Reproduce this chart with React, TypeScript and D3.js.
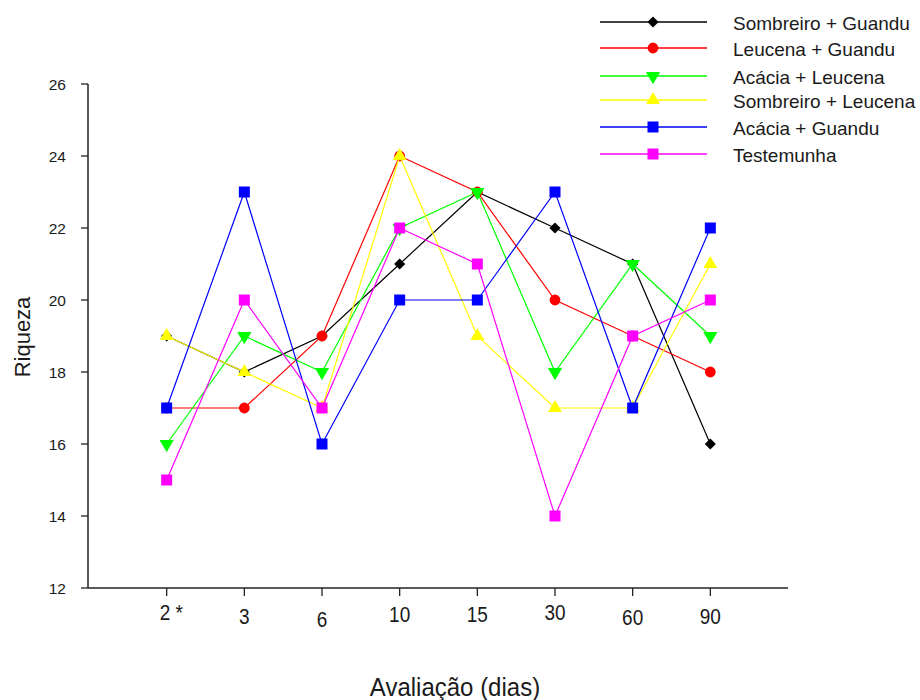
import React from "react";
import * as d3 from "d3";

const categories = ["2 *", "3", "6", "10", "15", "30", "60", "90"];
const seriesNames = [
  "Sombreiro + Guandu",
  "Leucena + Guandu",
  "Acácia + Leucena",
  "Sombreiro + Leucena",
  "Acácia + Guandu",
  "Testemunha",
];
const sombreiroGuandu = [19, 18, 19, 21, 23, 22, 21, 16];
const leucenaGuandu = [17, 17, 19, 24, 23, 20, 19, 18];
const acaciaLeucena = [16, 19, 18, 22, 23, 18, 21, 19];
const sombreiroLeucena = [19, 18, 17, 24, 19, 17, 17, 21];
const acaciaGuandu = [17, 23, 16, 20, 20, 23, 17, 22];
const testemunha = [15, 20, 17, 22, 21, 14, 19, 20];
const yTicks = [12, 14, 16, 18, 20, 22, 24, 26];

const seriesValues = [sombreiroGuandu, leucenaGuandu, acaciaLeucena, sombreiroLeucena, acaciaGuandu, testemunha];
const colors = ["#000000", "#ff0000", "#00ff00", "#ffff00", "#0000ff", "#ff00ff"];
const symbols = ["diamond", d3.symbolCircle, "triDown", d3.symbolTriangle, d3.symbolSquare, d3.symbolSquare];
const symSizes = [62, 92, 88, 82, 121, 121];
// small per-label baseline shifts seen in the reference rendering
const labelShift = [0, 4, 7, 2, 2, 0, 5, 4];

function markerPath(i: number) {
  const s = symbols[i];
  if (s === "triDown") return d3.symbol().type(d3.symbolTriangle).size(symSizes[i])();
  if (s === "diamond") return d3.symbol().type(d3.symbolSquare).size(symSizes[i])();
  return d3.symbol().type(s as any).size(symSizes[i])();
}
function markerRot(i: number) {
  const s = symbols[i];
  if (s === "triDown") return " rotate(180)";
  if (s === "diamond") return " rotate(45)";
  return "";
}

export default function App() {
  const x = d3.scaleLinear().domain([-1, 8]).range([89, 788]);
  const y = d3.scaleLinear().domain([12, 26]).range([588, 84]);
  const line = d3
    .line<number>()
    .x((_, i) => x(i))
    .y((d) => y(d));
  const font = "'Liberation Sans', Arial, sans-serif";
  const legendY = [22, 48, 76, 100, 127, 154];
  const txt = "#1a1a1a";

  return (
    <svg width={920} height={700} style={{ position: "absolute", left: 0, top: 0, background: "#fff" }} fontFamily={font}>
      <rect width={920} height={700} fill="#fff" />
      {/* axes */}
      <line x1={88} x2={88} y1={y(26)} y2={y(12)} stroke="#222" strokeWidth={1.5} />
      <line x1={88} x2={x(8)} y1={y(12)} y2={y(12)} stroke="#222" strokeWidth={1.5} />
      {yTicks.map((t) => (
        <g key={t}>
          <line x1={81} x2={88} y1={y(t)} y2={y(t)} stroke="#222" strokeWidth={1.3} />
          <text x={66} y={y(t)} dy="0.36em" textAnchor="end" fontSize={15.5} fill={txt}>
            {t}
          </text>
        </g>
      ))}
      {categories.map((c, i) => (
        <g key={c}>
          <line x1={x(i)} x2={x(i)} y1={y(12)} y2={y(12) + 8} stroke="#222" strokeWidth={1.3} />
          <text
            transform={`translate(${i === 0 ? x(i) - 7 : x(i)},${620 + labelShift[i]}) scale(1,1.2)`}
            textAnchor={i === 0 ? "start" : "middle"}
            fontSize={19}
            fill={txt}
          >
            {c}
          </text>
        </g>
      ))}
      <text transform="translate(455,696) scale(1,1.1)" textAnchor="middle" fontSize={24} fill={txt}>
        Avaliação (dias)
      </text>
      <text transform={`translate(30,337) rotate(-90)`} textAnchor="middle" fontSize={22} fill={txt}>
        Riqueza
      </text>
      {/* series */}
      {seriesValues.map((vals, si) => (
        <g key={si}>
          <path d={line(vals) || ""} fill="none" stroke={colors[si]} strokeWidth={1.2} />
          {vals.map((v, i) => (
            <path
              key={i}
              d={markerPath(si) || ""}
              transform={`translate(${x(i)},${y(v)})${markerRot(si)}`}
              fill={colors[si]}
            />
          ))}
        </g>
      ))}
      {/* legend */}
      {seriesNames.map((n, si) => (
        <g key={n}>
          <line x1={600} x2={707} y1={legendY[si]} y2={legendY[si]} stroke={colors[si]} strokeWidth={1.3} />
          <path
            d={markerPath(si) || ""}
            transform={`translate(653,${legendY[si]})${markerRot(si)}`}
            fill={colors[si]}
          />
          <text x={733} y={legendY[si] + 8} fontSize={19} fill={txt}>
            {n}
          </text>
        </g>
      ))}
    </svg>
  );
}
